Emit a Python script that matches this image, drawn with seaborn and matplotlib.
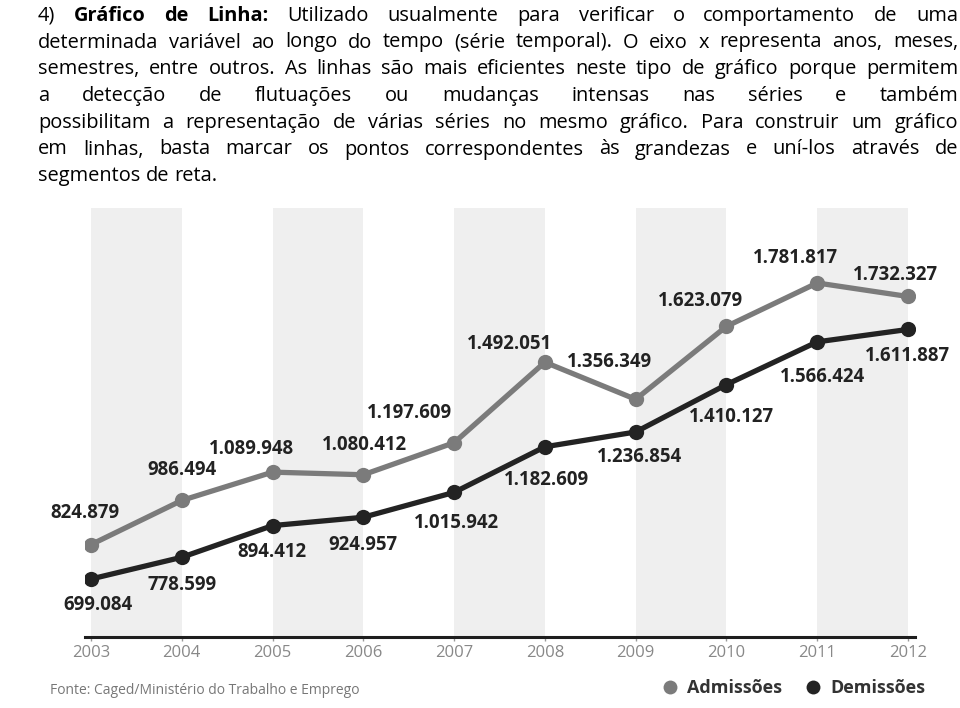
import matplotlib
matplotlib.use("Agg")
import matplotlib.pyplot as plt
import seaborn as sns
import pandas as pd
from matplotlib.transforms import IdentityTransform
from matplotlib.lines import Line2D

# ---------------- data ----------------
years = [2003, 2004, 2005, 2006, 2007, 2008, 2009, 2010, 2011, 2012]
admissoes = [824879, 986494, 1089948, 1080412, 1197609, 1492051, 1356349, 1623079, 1781817, 1732327]
demissoes = [699084, 778599, 894412, 924957, 1015942, 1182609, 1236854, 1410127, 1566424, 1611887]
series_names = ["Admissões", "Demissões"]
source_text = "Fonte: Caged/Ministério do Trabalho e Emprego"

paragraph = [
    [("4)", False), ("Gráfico", True), ("de", True), ("Linha:", True), ("Utilizado", False),
     ("usualmente", False), ("para", False), ("verificar", False), ("o", False),
     ("comportamento", False), ("de", False), ("uma", False)],
    "determinada variável ao longo do tempo (série temporal). O eixo x representa anos, meses,",
    "semestres, entre outros. As linhas são mais eficientes neste tipo de gráfico porque permitem",
    "a detecção de flutuações ou mudanças intensas nas séries e também",
    "possibilitam a representação de várias séries no mesmo gráfico. Para construir um gráfico",
    "em linhas, basta marcar os pontos correspondentes às grandezas e uní-los através de",
    "segmentos de reta.",
]

df = pd.DataFrame({
    "ano": years * 2,
    "valor": admissoes + demissoes,
    "serie": [series_names[0]] * len(years) + [series_names[1]] * len(years),
})

# ---------------- style ----------------
sns.set_theme(style="white")
plt.rcParams["font.family"] = ["Open Sans", "DejaVu Sans"]

W, H = 960, 708
fig = plt.figure(figsize=(W / 100, H / 100), dpi=100)
fig.patch.set_facecolor("white")

ax = fig.add_axes([85 / W, 1 - 637 / H, (915 - 85) / W, (637 - 208) / H])
ax.set_facecolor("white")

px_per_year = (908 - 91) / 9
ax.set_xlim(years[0] - 6 / px_per_year, years[-1] + 7 / px_per_year)
ax.set_ylim(487000, 2056000)

# alternating grey bands
for start in years[::2]:
    ax.axvspan(start, start + 1, color="#efefef", lw=0, zorder=0)

colors = {series_names[0]: "#7b7b7b", series_names[1]: "#232323"}
sns.lineplot(data=df, x="ano", y="valor", hue="serie", palette=colors,
             marker="o", markersize=11, markeredgewidth=0, linewidth=3.8,
             legend=False, ax=ax, zorder=3)

def fmt(v):
    return f"{v:,}".replace(",", ".")

# label offsets in pixels (dx right, dy up)
off_adm = [(-6, 32), (0, 30), (-21, 23), (1, 30), (-45, 30), (-35, 18),
           (-26, 37), (-26, 25), (-22, 25), (-13, 21)]
off_dem = [(7, -26), (0, -28), (-1, -26), (0, -28), (2, -31), (2, -33),
           (4, -25), (5, -32), (5, -35), (0, -27)]
for vals, offs in ((admissoes, off_adm), (demissoes, off_dem)):
    for x, v, (dx, dy) in zip(years, vals, offs):
        ax.annotate(fmt(v), (x, v), xytext=(dx * 0.72, dy * 0.72),
                    textcoords="offset points", ha="center", va="center",
                    fontsize=13.4, fontweight="bold", color="#222222", zorder=5)

for s in ("top", "left", "right"):
    ax.spines[s].set_visible(False)
ax.spines["bottom"].set_color("#1e1e1e")
ax.spines["bottom"].set_linewidth(2.2)
ax.spines["bottom"].set_zorder(4)
ax.set_xticks(years)
ax.set_xticklabels([str(y) for y in years])
ax.set_yticks([])
ax.tick_params(axis="x", length=3, width=1, color="#999999", pad=2.5,
               labelsize=12, labelcolor="#888888", bottom=True)
ax.set_xlabel("")
ax.set_ylabel("")
ax.grid(False)

# source
fig.text(50 / W, 1 - 690 / H, source_text, ha="left", va="center",
         fontsize=10, color="#777777")

# legend
handles = [Line2D([], [], ls="", marker="o", markersize=10, markeredgewidth=0,
                  color=colors[n]) for n in series_names]
fig.legend(handles, series_names, loc="center", ncol=2, frameon=False,
           bbox_to_anchor=(794 / W, 1 - 688 / H), bbox_transform=fig.transFigure,
           prop={"size": 13, "weight": "bold"}, labelcolor="#333333",
           handletextpad=0.55, columnspacing=1.3, handlelength=0.8)

# ---------------- justified paragraph ----------------
renderer = fig.canvas.get_renderer()
left_px, right_px = 38, 958
baselines = [21, 47.5, 74, 101, 128, 154.5, 181]
text_family = ["Open Sans", "DejaVu Sans"]
base_fs = 14.4

lines = []
for ln in paragraph:
    if isinstance(ln, str):
        lines.append([(w, False) for w in ln.split()])
    else:
        lines.append(ln)

objs = []
for ln in lines:
    row = []
    for w, b in ln:
        t = fig.text(0, 0, w, transform=IdentityTransform(), ha="left", va="baseline",
                     fontsize=base_fs, family=text_family,
                     fontweight="bold" if b else "normal", color="#000000")
        row.append(t)
    objs.append(row)

def widths():
    return [[t.get_window_extent(renderer).width for t in row] for row in objs]

ws = widths()
avail = right_px - left_px
factor = 1.0
for i, row in enumerate(ws[:-1]):
    need = sum(row) + (len(row) - 1) * 3.5
    factor = min(factor, avail / need)
if factor < 1.0:
    for row in objs:
        for t in row:
            t.set_fontsize(base_fs * factor)
    ws = widths()

fs_now = objs[0][0].get_fontsize()
probe1 = fig.text(0, 0, "a a", transform=IdentityTransform(), fontsize=fs_now, family=text_family)
probe2 = fig.text(0, 0, "aa", transform=IdentityTransform(), fontsize=fs_now, family=text_family)
space_w = probe1.get_window_extent(renderer).width - probe2.get_window_extent(renderer).width
probe1.remove()
probe2.remove()

for i, (row, wrow) in enumerate(zip(objs, ws)):
    if i < len(objs) - 1 and len(row) > 1:
        gap = (avail - sum(wrow)) / (len(row) - 1)
    else:
        gap = space_w
    x = left_px
    y = H - baselines[i]
    for t, w in zip(row, wrow):
        t.set_position((x, y))
        x += w + gap

fig.savefig("out.png", dpi=100, facecolor="white")
